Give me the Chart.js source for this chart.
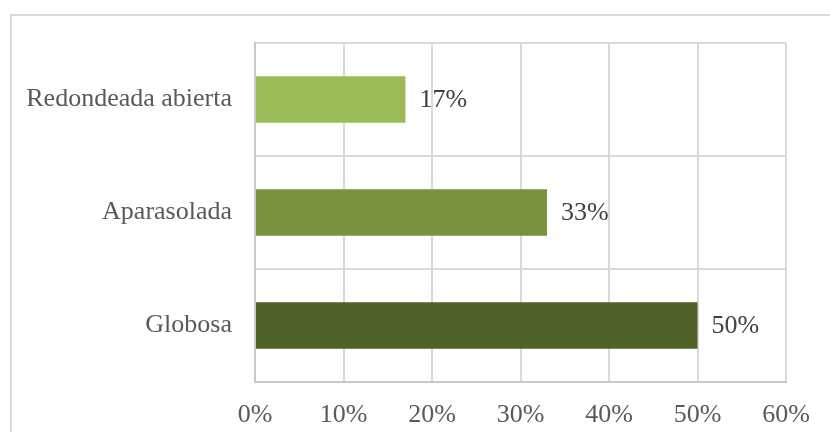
<!DOCTYPE html>
<html>
<head>
<meta charset="utf-8">
<script src="https://cdn.jsdelivr.net/npm/chart.js@4"></script>
<style>
  html, body { margin: 0; padding: 0; background: #fff; overflow: hidden; }
  #wrap { position: relative; width: 830px; height: 432px; }
  #frame { position: absolute; left: 10px; top: 14px; width: 900px; height: 500px; border: 2px solid #d9d9d9; box-sizing: border-box; }
  canvas { position: absolute; left: 0; top: 0; }
</style>
</head>
<body>
<div id="wrap">
  <div id="frame"></div>
  <canvas id="chart" width="830" height="432"></canvas>
</div>
<script>
// --- Data ---
const categories = ['Redondeada abierta', 'Aparasolada', 'Globosa'];
const shares = [17, 33, 50];
const barColors = ['#9BBB59', '#77933C', '#4F6228'];
const xTicks = [0, 10, 20, 30, 40, 50, 60];

const fontFamily = '"Liberation Serif", "DejaVu Serif", serif';

// Writes the percentage just past the end of each bar
const valueLabels = {
    id: 'valueLabels',
    afterDatasetsDraw(chart) {
        const ctx = chart.ctx;
        const meta = chart.getDatasetMeta(0);
        ctx.save();
        ctx.font = '26px ' + fontFamily;
        ctx.fillStyle = '#404040';
        ctx.textAlign = 'left';
        ctx.textBaseline = 'middle';
        meta.data.forEach(function (bar, i) {
            ctx.fillText(shares[i] + '%', bar.x + 14, bar.y + 1);
        });
        ctx.restore();
    }
};

const ctx = document.getElementById('chart').getContext('2d');
new Chart(ctx, {
    type: 'bar',
    data: {
        labels: categories,
        datasets: [{
            data: shares,
            backgroundColor: barColors,
            borderWidth: 0,
            categoryPercentage: 1,
            barPercentage: 0.41
        }]
    },
    options: {
        indexAxis: 'y',
        responsive: false,
        animation: false,
        layout: { padding: { left: 0, top: 43, right: 44, bottom: 0 } },
        plugins: { legend: { display: false }, tooltip: { enabled: false } },
        scales: {
            x: {
                min: 0,
                max: 60,
                afterBuildTicks: function (scale) {
                    scale.ticks = xTicks.map(function (v) { return { value: v }; });
                },
                afterFit: function (scale) { scale.height = 50; },
                grid: { color: '#d9d9d9', lineWidth: 2, drawTicks: false },
                border: { color: '#c8c8c8', width: 2 },
                ticks: {
                    padding: 18,
                    color: '#595959',
                    font: { family: fontFamily, size: 26 },
                    callback: function (v) { return v + '%'; }
                }
            },
            y: {
                afterFit: function (scale) { scale.width = 255; },
                grid: { color: '#d9d9d9', lineWidth: 2, drawTicks: false },
                border: { color: '#c8c8c8', width: 2 },
                ticks: {
                    padding: 23,
                    color: '#595959',
                    font: { family: fontFamily, size: 26 }
                }
            }
        }
    },
    plugins: [valueLabels]
});
</script>
</body>
</html>
